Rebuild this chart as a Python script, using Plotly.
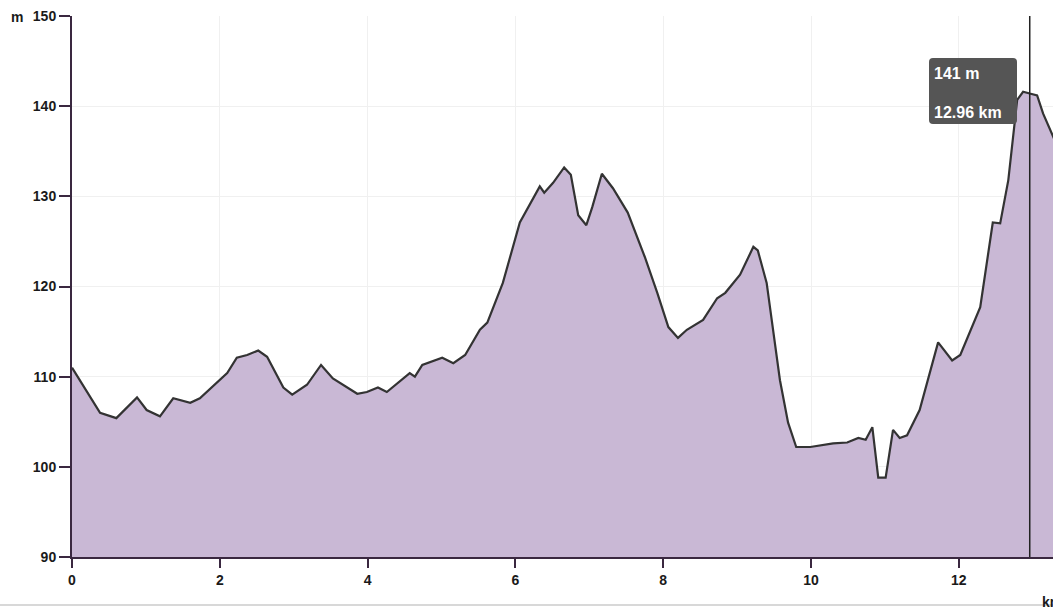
import plotly.graph_objects as go

distance_km = [0.0, 0.38, 0.6, 0.88, 1.01, 1.19, 1.37, 1.60, 1.73, 2.10, 2.23, 2.37, 2.52, 2.64,
               2.86, 2.98, 3.18, 3.37, 3.53, 3.86, 3.99, 4.14, 4.26, 4.57, 4.64, 4.74, 5.01, 5.16,
               5.32, 5.52, 5.62, 5.83, 6.06, 6.20, 6.33, 6.39, 6.51, 6.66, 6.75, 6.85, 6.96, 7.04,
               7.17, 7.32, 7.52, 7.75, 7.92, 8.07, 8.20, 8.32, 8.54, 8.73, 8.84, 9.04, 9.22, 9.28,
               9.40, 9.58, 9.69, 9.80, 9.99, 10.30, 10.49, 10.64, 10.74, 10.83, 10.91, 11.01, 11.11,
               11.20, 11.30, 11.47, 11.61, 11.72, 11.91, 12.02, 12.29, 12.46, 12.56, 12.67, 12.79,
               12.87, 12.96, 13.06, 13.14, 13.30]
elevation_m = [111.0, 106.0, 105.4, 107.7, 106.3, 105.6, 107.6, 107.1, 107.6, 110.4, 112.1, 112.4,
               112.9, 112.2, 108.8, 108.0, 109.1, 111.3, 109.8, 108.1, 108.3, 108.8, 108.3, 110.4,
               110.0, 111.3, 112.1, 111.5, 112.4, 115.2, 116.0, 120.4, 127.1, 129.2, 131.1, 130.4,
               131.5, 133.2, 132.4, 127.9, 126.8, 128.8, 132.5, 130.9, 128.2, 123.3, 119.3, 115.5,
               114.3, 115.2, 116.3, 118.7, 119.3, 121.3, 124.4, 124.0, 120.4, 109.6, 104.9, 102.2,
               102.2, 102.6, 102.7, 103.2, 103.0, 104.4, 98.8, 98.8, 104.1, 103.2, 103.5, 106.3,
               110.4, 113.8, 111.8, 112.4, 117.7, 127.1, 127.0, 131.8, 140.7, 141.6, 141.4, 141.2,
               139.2, 136.2]

x_ticks = [0, 2, 4, 6, 8, 10, 12]
y_ticks = [90, 100, 110, 120, 130, 140, 150]
y_tick_labels = ["90", "100", "110", "120", "130", "140", "150"]

hover_km = 12.96
hover_m = 141

W, H = 1053, 607
ML, MR, MT, MB = 72, 0, 16, 50
PW, PH = W - ML - MR, H - MT - MB


def px(xp):
    return (xp - ML) / PW


def py(yp):
    return (H - MB - yp) / PH


bold = dict(family="Liberation Sans, Arial, sans-serif", size=14, color="#1a1a1a", weight="bold")
axis_col = "#3a2840"

fig = go.Figure()
fig.add_trace(go.Scatter(
    x=distance_km, y=elevation_m, mode="lines",
    line=dict(color="#333333", width=2.2),
    fill="tozeroy", fillcolor="#c9b8d5",
    hoverinfo="skip", showlegend=False,
))

fig.update_layout(
    width=W, height=H,
    margin=dict(l=ML, r=MR, t=MT, b=MB),
    plot_bgcolor="white", paper_bgcolor="white",
    xaxis=dict(range=[0, PW / 73.9], tickvals=x_ticks, ticks="outside", ticklen=9,
               tickwidth=2, tickcolor=axis_col, showline=True, linecolor=axis_col,
               linewidth=2, showgrid=True, gridcolor="#f0f0f0", gridwidth=1,
               zeroline=False, tickfont=bold),
    yaxis=dict(range=[90, 150], tickvals=y_ticks, ticktext=y_tick_labels, ticks="outside",
               ticklen=11, tickwidth=2, tickcolor=axis_col, showline=True,
               linecolor=axis_col, linewidth=2, showgrid=True, gridcolor="#f0f0f0",
               gridwidth=1, zeroline=False, tickfont=bold),
)

# hover vertical line
fig.add_shape(type="line", xref="x", yref="paper", x0=hover_km, x1=hover_km, y0=0, y1=1,
              line=dict(color="#222222", width=1.5))

# tooltip box with rounded corners (paper coords)
x0, x1, y0, y1 = px(929), px(1017), py(124), py(58)
rx, ry = 4 / PW, 4 / PH
path = (f"M {x0+rx},{y1} L {x1-rx},{y1} Q {x1},{y1} {x1},{y1-ry} "
        f"L {x1},{y0+ry} Q {x1},{y0} {x1-rx},{y0} L {x0+rx},{y0} "
        f"Q {x0},{y0} {x0},{y0+ry} L {x0},{y1-ry} Q {x0},{y1} {x0+rx},{y1} Z")
fig.add_shape(type="path", xref="paper", yref="paper", path=path,
              fillcolor="#555555", line=dict(color="#555555", width=0))

tip_font = dict(family="Liberation Sans, Arial, sans-serif", size=16, color="white", weight="bold")
fig.add_annotation(xref="paper", yref="paper", x=px(932), y=py(73), text=f"{hover_m} m",
                   showarrow=False, xanchor="left", yanchor="middle", font=tip_font)
fig.add_annotation(xref="paper", yref="paper", x=px(932), y=py(112), text=f"{hover_km} km",
                   showarrow=False, xanchor="left", yanchor="middle", font=tip_font)

# unit labels
fig.add_annotation(xref="paper", yref="paper", x=px(9), y=py(17), text="m",
                   showarrow=False, xanchor="left", yanchor="middle", font=bold)
fig.add_annotation(xref="paper", yref="paper", x=px(1040), y=py(602), text="km",
                   showarrow=False, xanchor="left", yanchor="middle", font=bold)

# bottom page border line
fig.add_shape(type="line", xref="paper", yref="paper", x0=px(0), x1=px(W), y0=py(605), y1=py(605),
              line=dict(color="#d8d8d8", width=2))

fig.write_html("out.html", config={"displayModeBar": False},
               post_script="document.body.style.margin='0';document.body.style.overflow='hidden';")
